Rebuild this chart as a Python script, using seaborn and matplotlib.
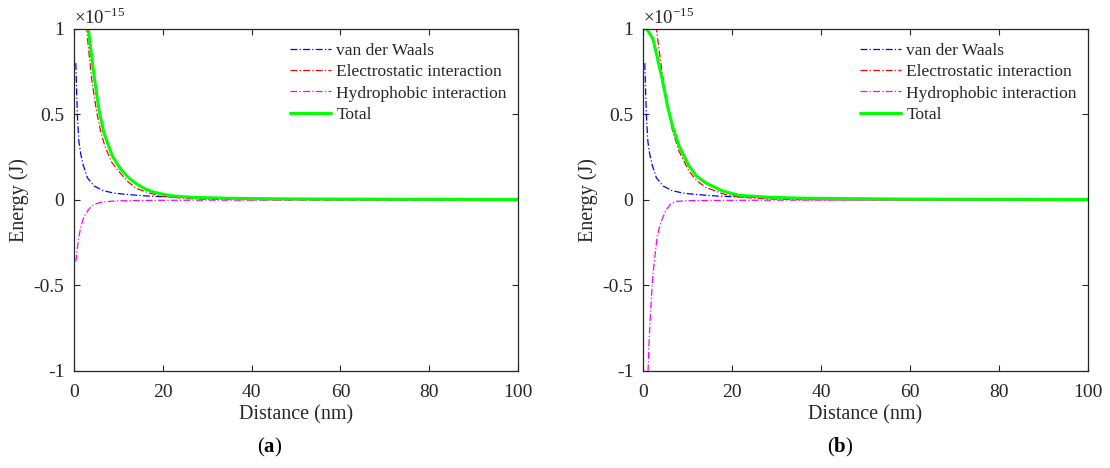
import matplotlib
matplotlib.use("Agg")
import matplotlib.pyplot as plt
import seaborn as sns

# values, energy in units of 1e-15 J, distance in nm
vdw_d = [0.4, 0.6, 0.8, 1.1, 1.5, 2.0, 3.0, 4.5, 6.5, 9, 12, 16, 20, 28, 40, 60, 80, 100]
vdw_e = [0.80, 0.62, 0.47, 0.34, 0.27, 0.21, 0.13, 0.082, 0.055, 0.04, 0.032,
         0.024, 0.019, 0.013, 0.009, 0.006, 0.005, 0.004]

elec_a_d = [2.8, 3.2, 4.0, 5.0, 6.0, 7.0, 8.5, 10, 12, 14, 17, 20, 25, 30, 40, 60, 100]
elec_a_e = [1.02, 0.90, 0.70, 0.53, 0.40, 0.31, 0.22, 0.17, 0.11, 0.068, 0.04,
            0.022, 0.009, 0.004, 0.001, 0, 0]

hyd_a_d = [0.4, 0.75, 1.0, 1.5, 2.0, 2.6, 3.3, 4.1, 5, 6, 8, 10, 15, 20, 30, 50, 100]
hyd_a_e = [-0.36, -0.28, -0.23, -0.16, -0.115, -0.082, -0.055, -0.033, -0.022,
           -0.014, -0.008, -0.005, -0.003, -0.002, -0.001, 0, 0]

tot_a_d = [3.0, 3.5, 4.5, 5.6, 6.7, 8.6, 10.5, 12.5, 14.2, 16, 18, 21.7, 25, 28.5,
           35, 40, 50, 60, 80, 100]
tot_a_e = [1.05, 0.94, 0.727, 0.53, 0.395, 0.258, 0.18, 0.125, 0.092, 0.065, 0.045,
           0.025, 0.018, 0.014, 0.01, 0.008, 0.006, 0.005, 0.004, 0.003]

elec_b_d = [2.9, 3.5, 4.0, 5.0, 6.0, 6.6, 8.0, 10.3, 12, 14, 18, 22, 28, 35, 50, 100]
elec_b_e = [1.02, 0.90, 0.80, 0.62, 0.48, 0.41, 0.29, 0.17, 0.115, 0.075, 0.035,
            0.016, 0.006, 0.002, 0, 0]

hyd_b_d = [1.0, 1.13, 1.35, 1.73, 2.1, 2.5, 3.2, 4.0, 5.1, 6.2, 7.6, 10, 12.6, 20, 30, 50, 100]
hyd_b_e = [-1.15, -1.0, -0.83, -0.637, -0.48, -0.365, -0.209, -0.131, -0.063,
           -0.023, -0.008, -0.004, -0.003, -0.002, -0.001, 0, 0]

tot_b_d = [0.3, 1.35, 2.25, 3.2, 4.3, 5.5, 6.6, 8.1, 10.3, 12, 14.1, 17.8, 21.6, 28.3,
           35, 40, 50, 60, 80, 100]
tot_b_e = [1.02, 0.98, 0.94, 0.834, 0.707, 0.55, 0.434, 0.316, 0.2, 0.14, 0.1, 0.053,
           0.027, 0.016, 0.011, 0.009, 0.007, 0.005, 0.004, 0.003]

labels = ["van der Waals", "Electrostatic interaction", "Hydrophobic interaction", "Total"]
colors = ["#0000ff", "#ff0000", "#ff00ff", "#00ff00"]
x_ticks = [0, 20, 40, 60, 80, 100]
y_ticks = [-1, -0.5, 0, 0.5, 1]
y_tick_labels = ["-1", "-0.5", "0", "0.5", "1"]

sns.set_style("ticks")
plt.rcParams["font.family"] = ["Liberation Serif", "DejaVu Serif"]
plt.rcParams["mathtext.fontset"] = "custom"
plt.rcParams["mathtext.rm"] = "Liberation Serif"
plt.rcParams["mathtext.bf"] = "Liberation Serif:bold"

txt = "#262626"
dashdot = (0, (5.5, 1.8, 1, 1.8))

fig = plt.figure(figsize=(11.1, 4.68), dpi=100)
ax_a = fig.add_axes([0.0667, 0.2073, 0.4, 0.7308])
ax_b = fig.add_axes([0.5793, 0.2073, 0.4009, 0.7308])

panels = [
    (ax_a, [(vdw_d, vdw_e), (elec_a_d, elec_a_e), (hyd_a_d, hyd_a_e), (tot_a_d, tot_a_e)], "a", 0.243),
    (ax_b, [(vdw_d, vdw_e), (elec_b_d, elec_b_e), (hyd_b_d, hyd_b_e), (tot_b_d, tot_b_e)], "b", 0.757),
]

for ax, series, tag, xc in panels:
    for (d, e), lab, col in zip(series, labels, colors):
        if lab == "Total":
            sns.lineplot(x=d, y=e, ax=ax, color=col, lw=2.2, label=lab,
                         estimator=None, sort=False)
        else:
            sns.lineplot(x=d, y=e, ax=ax, color=col, lw=0.9, linestyle=dashdot,
                         label=lab, estimator=None, sort=False)

    ax.set_xlim(0, 100)
    ax.set_ylim(-1, 1)
    ax.set_xticks(x_ticks)
    ax.set_xticklabels([str(t) for t in x_ticks])
    ax.set_yticks(y_ticks)
    ax.set_yticklabels(y_tick_labels)
    ax.tick_params(direction="in", length=4, width=0.8, top=True, right=True,
                   labelsize=14, colors=txt)
    ax.tick_params(axis="x", pad=9.5)
    ax.tick_params(axis="y", pad=7)
    for s in ax.spines.values():
        s.set_visible(True)
        s.set_color(txt)
        s.set_linewidth(0.9)

    ax.set_xlabel("Distance (nm)", fontsize=14.5, color=txt, labelpad=3)
    ax.set_ylabel("Energy (J)", fontsize=14.5, color=txt, labelpad=3)
    ax.text(0.0, 1.003, r"$\times 10^{-15}$", transform=ax.transAxes,
            ha="left", va="bottom", fontsize=13.5, color=txt)

    ax.legend(loc="upper right", bbox_to_anchor=(0.975, 0.96), frameon=False,
              fontsize=12.5, handlelength=2.4, handletextpad=0.3,
              labelspacing=0.3, borderpad=0, borderaxespad=0)

    fig.text(xc, 0.02, r"($\mathbf{" + tag + r"}$)", ha="center", va="bottom",
             fontsize=15, color="black")

fig.savefig("out.png", dpi=100)
